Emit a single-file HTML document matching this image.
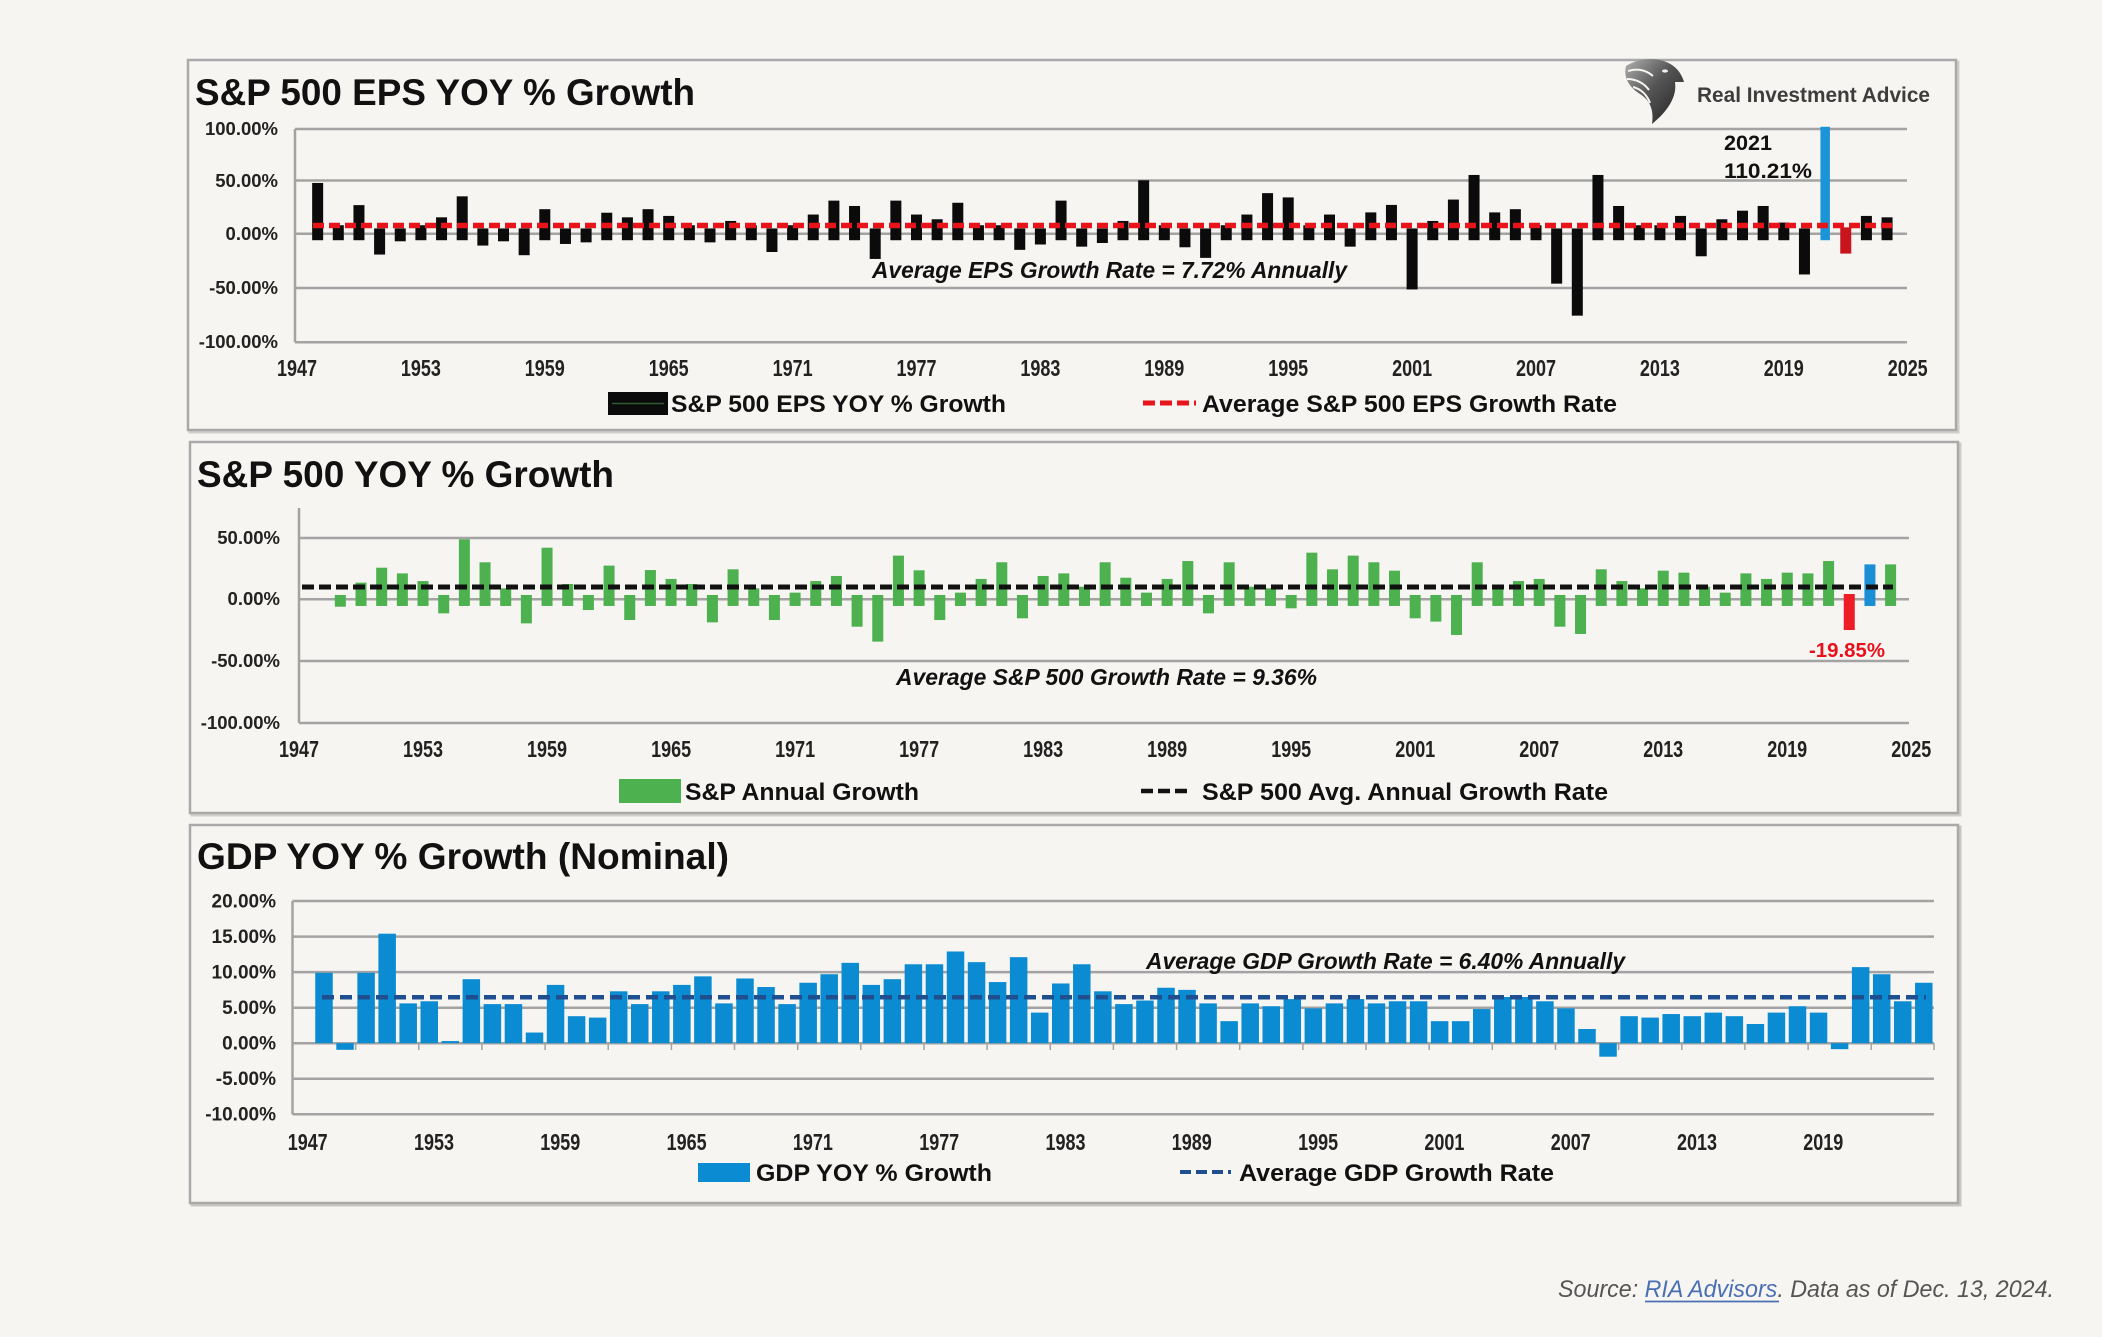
<!DOCTYPE html>
<html><head><meta charset="utf-8"><style>
html,body{margin:0;padding:0;background:#f7f5f2;overflow:hidden;}
svg{display:block;}
</style></head><body>
<svg width="2102" height="1337" viewBox="0 0 2102 1337" xmlns="http://www.w3.org/2000/svg" font-family="'Liberation Sans', Arial, sans-serif">
<defs>
<linearGradient id="eg" x1="0" y1="0" x2="1" y2="1"><stop offset="0" stop-color="#b0b0b0"/><stop offset=".45" stop-color="#555"/><stop offset="1" stop-color="#1e1e1e"/></linearGradient>
</defs>
<rect x="0" y="0" width="2102" height="1337" fill="#f7f5f2"/>

<!-- Panels -->
<rect x="190" y="62" width="1768" height="370" fill="none" stroke="#d0cecb" stroke-width="3"/>
<rect x="188" y="60" width="1768" height="370" fill="#f7f5f2" stroke="#a9a9a9" stroke-width="2.5"/>
<rect x="192" y="444" width="1768" height="371" fill="none" stroke="#d0cecb" stroke-width="3"/>
<rect x="190" y="442" width="1768" height="371" fill="#f7f5f2" stroke="#a9a9a9" stroke-width="2.5"/>
<rect x="192" y="827" width="1768" height="378" fill="none" stroke="#c8c6c3" stroke-width="3"/>
<rect x="190" y="825" width="1768" height="378" fill="#f7f5f2" stroke="#a9a9a9" stroke-width="2.5"/>

<!-- ============ PANEL 1 ============ -->
<text x="195" y="105" font-size="37" font-weight="bold" fill="#111" textLength="500" lengthAdjust="spacingAndGlyphs">S&amp;P 500 EPS YOY % Growth</text>
<g stroke="#a3a3a3" stroke-width="2.5">
<line x1="295" y1="129" x2="1907" y2="129"/>
<line x1="295" y1="180.5" x2="1907" y2="180.5"/>
<line x1="295" y1="233.8" x2="1907" y2="233.8"/>
<line x1="295" y1="288" x2="1907" y2="288"/>
<line x1="295" y1="342.3" x2="1907" y2="342.3"/>
<line x1="295" y1="129" x2="295" y2="342.3"/>
</g>
<g font-size="18.5" font-weight="bold" fill="#222" text-anchor="end">
<text x="278" y="135">100.00%</text>
<text x="278" y="187">50.00%</text>
<text x="278" y="240">0.00%</text>
<text x="278" y="294">-50.00%</text>
<text x="278" y="348">-100.00%</text>
</g>
<g font-size="23" font-weight="bold" fill="#222" text-anchor="middle">
<text x="297" y="376" textLength="40" lengthAdjust="spacingAndGlyphs">1947</text>
<text x="420.9" y="376" textLength="40" lengthAdjust="spacingAndGlyphs">1953</text>
<text x="544.8" y="376" textLength="40" lengthAdjust="spacingAndGlyphs">1959</text>
<text x="668.7" y="376" textLength="40" lengthAdjust="spacingAndGlyphs">1965</text>
<text x="792.6" y="376" textLength="40" lengthAdjust="spacingAndGlyphs">1971</text>
<text x="916.5" y="376" textLength="40" lengthAdjust="spacingAndGlyphs">1977</text>
<text x="1040.4" y="376" textLength="40" lengthAdjust="spacingAndGlyphs">1983</text>
<text x="1164.3" y="376" textLength="40" lengthAdjust="spacingAndGlyphs">1989</text>
<text x="1288.2" y="376" textLength="40" lengthAdjust="spacingAndGlyphs">1995</text>
<text x="1412.1" y="376" textLength="40" lengthAdjust="spacingAndGlyphs">2001</text>
<text x="1536" y="376" textLength="40" lengthAdjust="spacingAndGlyphs">2007</text>
<text x="1659.9" y="376" textLength="40" lengthAdjust="spacingAndGlyphs">2013</text>
<text x="1783.8" y="376" textLength="40" lengthAdjust="spacingAndGlyphs">2019</text>
<text x="1907.7" y="376" textLength="40" lengthAdjust="spacingAndGlyphs">2025</text>
</g>
<g transform="translate(291.5 233.8) scale(20.65 -1.07)" fill="#0b0b0b">
<rect x="1" y="-6" width=".533" height="53.5"/>
<rect x="2" y="-6" width=".533" height="14"/>
<rect x="3" y="-6" width=".533" height="32.8"/>
<rect x="4" y="-19.4" width=".533" height="24.4"/>
<rect x="5" y="-7" width=".533" height="12"/>
<rect x="6" y="-6" width=".533" height="14"/>
<rect x="7" y="-6" width=".533" height="21.4"/>
<rect x="8" y="-6" width=".533" height="41"/>
<rect x="9" y="-11" width=".533" height="16"/>
<rect x="10" y="-7" width=".533" height="12"/>
<rect x="11" y="-20" width=".533" height="25"/>
<rect x="12" y="-6" width=".533" height="29"/>
<rect x="13" y="-9.5" width=".533" height="14.5"/>
<rect x="14" y="-8" width=".533" height="13"/>
<rect x="15" y="-6" width=".533" height="25.7"/>
<rect x="16" y="-6" width=".533" height="21.4"/>
<rect x="17" y="-6" width=".533" height="29"/>
<rect x="18" y="-6" width=".533" height="22.7"/>
<rect x="19" y="-6" width=".533" height="14"/>
<rect x="20" y="-8" width=".533" height="13"/>
<rect x="21" y="-6" width=".533" height="18"/>
<rect x="22" y="-6" width=".533" height="14"/>
<rect x="23" y="-17" width=".533" height="22"/>
<rect x="24" y="-6" width=".533" height="14"/>
<rect x="25" y="-6" width=".533" height="24"/>
<rect x="26" y="-6" width=".533" height="37"/>
<rect x="27" y="-6" width=".533" height="32"/>
<rect x="28" y="-23.5" width=".533" height="28.5"/>
<rect x="29" y="-6" width=".533" height="37"/>
<rect x="30" y="-6" width=".533" height="24"/>
<rect x="31" y="-6" width=".533" height="19.6"/>
<rect x="32" y="-6" width=".533" height="35"/>
<rect x="33" y="-6" width=".533" height="14"/>
<rect x="34" y="-6" width=".533" height="14"/>
<rect x="35" y="-15" width=".533" height="20"/>
<rect x="36" y="-10" width=".533" height="15"/>
<rect x="37" y="-6" width=".533" height="37"/>
<rect x="38" y="-12" width=".533" height="17"/>
<rect x="39" y="-8.6" width=".533" height="13.6"/>
<rect x="40" y="-6" width=".533" height="18"/>
<rect x="41" y="-6" width=".533" height="56"/>
<rect x="42" y="-6" width=".533" height="14"/>
<rect x="43" y="-12.6" width=".533" height="17.6"/>
<rect x="44" y="-22.5" width=".533" height="27.5"/>
<rect x="45" y="-6" width=".533" height="14"/>
<rect x="46" y="-6" width=".533" height="24"/>
<rect x="47" y="-6" width=".533" height="44"/>
<rect x="48" y="-6" width=".533" height="40"/>
<rect x="49" y="-6" width=".533" height="14"/>
<rect x="50" y="-6" width=".533" height="24"/>
<rect x="51" y="-12" width=".533" height="17"/>
<rect x="52" y="-6" width=".533" height="26"/>
<rect x="53" y="-6" width=".533" height="33"/>
<rect x="54" y="-52" width=".533" height="57"/>
<rect x="55" y="-6" width=".533" height="18"/>
<rect x="56" y="-6" width=".533" height="38"/>
<rect x="57" y="-6" width=".533" height="61"/>
<rect x="58" y="-6" width=".533" height="26"/>
<rect x="59" y="-6" width=".533" height="29"/>
<rect x="60" y="-6" width=".533" height="14"/>
<rect x="61" y="-46.6" width=".533" height="51.6"/>
<rect x="62" y="-76.5" width=".533" height="81.5"/>
<rect x="63" y="-6" width=".533" height="61"/>
<rect x="64" y="-6" width=".533" height="32"/>
<rect x="65" y="-6" width=".533" height="14"/>
<rect x="66" y="-6" width=".533" height="14"/>
<rect x="67" y="-6" width=".533" height="22.7"/>
<rect x="68" y="-21" width=".533" height="26"/>
<rect x="69" y="-6" width=".533" height="19.6"/>
<rect x="70" y="-6" width=".533" height="27.6"/>
<rect x="71" y="-6" width=".533" height="32"/>
<rect x="72" y="-6" width=".533" height="16.5"/>
<rect x="73" y="-38" width=".533" height="43"/>
<rect x="74.04" y="-6" width=".46" height="106" fill="#1b95d8"/>
<rect x="75" y="-18.5" width=".533" height="24.5" fill="#c8141c"/>
<rect x="76" y="-6" width=".533" height="22.7"/>
<rect x="77" y="-6" width=".533" height="21.4"/>
</g>
<line x1="313" y1="225.5" x2="1892" y2="225.5" stroke="#e8141b" stroke-width="5.5" stroke-dasharray="11 5"/>
<text x="872" y="278" font-size="23" font-weight="bold" font-style="italic" fill="#111" textLength="475" lengthAdjust="spacingAndGlyphs">Average EPS Growth Rate = 7.72% Annually</text>
<text x="1724" y="150" font-size="21" font-weight="bold" fill="#111" textLength="48" lengthAdjust="spacingAndGlyphs">2021</text>
<text x="1724" y="178" font-size="21" font-weight="bold" fill="#111" textLength="88" lengthAdjust="spacingAndGlyphs">110.21%</text>
<!-- legend 1 -->
<rect x="608" y="392" width="60" height="23" fill="#0b0b0b"/>
<line x1="612" y1="403.5" x2="664" y2="403.5" stroke="#2f5a2f" stroke-width="1.5"/>
<text x="671" y="412" font-size="24" font-weight="bold" fill="#111" textLength="335" lengthAdjust="spacingAndGlyphs">S&amp;P 500 EPS YOY % Growth</text>
<line x1="1143" y1="403" x2="1196" y2="403" stroke="#e8141b" stroke-width="5" stroke-dasharray="12 5"/>
<text x="1202" y="412" font-size="24" font-weight="bold" fill="#111" textLength="415" lengthAdjust="spacingAndGlyphs">Average S&amp;P 500 EPS Growth Rate</text>
<!-- logo -->
<path d="M1626,66 C1640,57 1660,57 1672,65 C1678,69 1682,75 1684,82 L1675,82 C1677,96 1669,110 1652,124 C1654,110 1650,100 1640,94 C1630,88 1623,78 1626,66 Z" fill="url(#eg)"/>
<g stroke="#f7f5f2" stroke-width="2" fill="none">
<path d="M1628,71 C1637,68 1646,70 1653,76"/>
<path d="M1627,79 C1636,79 1644,83 1649,90"/>
<path d="M1633,87 C1641,89 1647,95 1650,103"/>
</g>
<ellipse cx="1665" cy="71" rx="3" ry="1.6" fill="#eee"/>
<text x="1697" y="102" font-size="21" font-weight="bold" fill="#3d3d3d" textLength="233" lengthAdjust="spacingAndGlyphs">Real Investment Advice</text>

<!-- ============ PANEL 2 ============ -->
<text x="197" y="487" font-size="37" font-weight="bold" fill="#111" textLength="417" lengthAdjust="spacingAndGlyphs">S&amp;P 500 YOY % Growth</text>
<g stroke="#a3a3a3" stroke-width="2.5">
<line x1="299" y1="538" x2="1909" y2="538"/>
<line x1="299" y1="599.3" x2="1909" y2="599.3"/>
<line x1="299" y1="661" x2="1909" y2="661"/>
<line x1="299" y1="723" x2="1909" y2="723"/>
<line x1="299" y1="508" x2="299" y2="723"/>
</g>
<g font-size="18.5" font-weight="bold" fill="#222" text-anchor="end">
<text x="280" y="544">50.00%</text>
<text x="280" y="605">0.00%</text>
<text x="280" y="667">-50.00%</text>
<text x="280" y="729">-100.00%</text>
</g>
<g font-size="23" font-weight="bold" fill="#222" text-anchor="middle">
<text x="299" y="757" textLength="40" lengthAdjust="spacingAndGlyphs">1947</text>
<text x="423" y="757" textLength="40" lengthAdjust="spacingAndGlyphs">1953</text>
<text x="547" y="757" textLength="40" lengthAdjust="spacingAndGlyphs">1959</text>
<text x="671.1" y="757" textLength="40" lengthAdjust="spacingAndGlyphs">1965</text>
<text x="795.1" y="757" textLength="40" lengthAdjust="spacingAndGlyphs">1971</text>
<text x="919.1" y="757" textLength="40" lengthAdjust="spacingAndGlyphs">1977</text>
<text x="1043.1" y="757" textLength="40" lengthAdjust="spacingAndGlyphs">1983</text>
<text x="1167.1" y="757" textLength="40" lengthAdjust="spacingAndGlyphs">1989</text>
<text x="1291.2" y="757" textLength="40" lengthAdjust="spacingAndGlyphs">1995</text>
<text x="1415.2" y="757" textLength="40" lengthAdjust="spacingAndGlyphs">2001</text>
<text x="1539.2" y="757" textLength="40" lengthAdjust="spacingAndGlyphs">2007</text>
<text x="1663.2" y="757" textLength="40" lengthAdjust="spacingAndGlyphs">2013</text>
<text x="1787.2" y="757" textLength="40" lengthAdjust="spacingAndGlyphs">2019</text>
<text x="1911.3" y="757" textLength="40" lengthAdjust="spacingAndGlyphs">2025</text>
</g>
<g transform="translate(293.5 599.3) scale(20.67 -1.234)" fill="#4db14f">
<rect x="2" y="-6" width=".533" height="9.5"/>
<rect x="3" y="-5.4" width=".533" height="18.9"/>
<rect x="4" y="-5.4" width=".533" height="31"/>
<rect x="5" y="-5.4" width=".533" height="26.4"/>
<rect x="6" y="-5.4" width=".533" height="20.2"/>
<rect x="7" y="-11.4" width=".533" height="14.9"/>
<rect x="8" y="-5.4" width=".533" height="54"/>
<rect x="9" y="-5.4" width=".533" height="35.4"/>
<rect x="10" y="-5.4" width=".533" height="14.3"/>
<rect x="11" y="-19.5" width=".533" height="23"/>
<rect x="12" y="-5.4" width=".533" height="47.2"/>
<rect x="13" y="-5.4" width=".533" height="17.8"/>
<rect x="14" y="-8.7" width=".533" height="12.2"/>
<rect x="15" y="-5.4" width=".533" height="32.7"/>
<rect x="16" y="-16.8" width=".533" height="20.3"/>
<rect x="17" y="-5.4" width=".533" height="29.1"/>
<rect x="18" y="-5.4" width=".533" height="21.9"/>
<rect x="19" y="-5.4" width=".533" height="17.8"/>
<rect x="20" y="-18.7" width=".533" height="22.2"/>
<rect x="21" y="-5.4" width=".533" height="29.7"/>
<rect x="22" y="-5.4" width=".533" height="14.3"/>
<rect x="23" y="-16.8" width=".533" height="20.3"/>
<rect x="24" y="-5.4" width=".533" height="10.8"/>
<rect x="25" y="-5.4" width=".533" height="20.2"/>
<rect x="26" y="-5.4" width=".533" height="24.3"/>
<rect x="27" y="-22.2" width=".533" height="25.7"/>
<rect x="28" y="-34.3" width=".533" height="37.8"/>
<rect x="29" y="-5.4" width=".533" height="40.8"/>
<rect x="30" y="-5.4" width=".533" height="28.9"/>
<rect x="31" y="-16.8" width=".533" height="20.3"/>
<rect x="32" y="-5.4" width=".533" height="10.8"/>
<rect x="33" y="-5.4" width=".533" height="21.9"/>
<rect x="34" y="-5.4" width=".533" height="35.4"/>
<rect x="35" y="-15.4" width=".533" height="18.9"/>
<rect x="36" y="-5.4" width=".533" height="24.3"/>
<rect x="37" y="-5.4" width=".533" height="26.4"/>
<rect x="38" y="-5.4" width=".533" height="15.6"/>
<rect x="39" y="-5.4" width=".533" height="35.4"/>
<rect x="40" y="-5.4" width=".533" height="22.9"/>
<rect x="41" y="-5.4" width=".533" height="10.8"/>
<rect x="42" y="-5.4" width=".533" height="21.9"/>
<rect x="43" y="-5.4" width=".533" height="36.4"/>
<rect x="44" y="-11.4" width=".533" height="14.9"/>
<rect x="45" y="-5.4" width=".533" height="35.4"/>
<rect x="46" y="-5.4" width=".533" height="15.6"/>
<rect x="47" y="-5.4" width=".533" height="14.3"/>
<rect x="48" y="-7.3" width=".533" height="10.8"/>
<rect x="49" y="-5.4" width=".533" height="43.2"/>
<rect x="50" y="-5.4" width=".533" height="29.7"/>
<rect x="51" y="-5.4" width=".533" height="40.8"/>
<rect x="52" y="-5.4" width=".533" height="35.4"/>
<rect x="53" y="-5.4" width=".533" height="28.6"/>
<rect x="54" y="-15.4" width=".533" height="18.9"/>
<rect x="55" y="-18.1" width=".533" height="21.6"/>
<rect x="56" y="-28.9" width=".533" height="32.4"/>
<rect x="57" y="-5.4" width=".533" height="35.4"/>
<rect x="58" y="-5.4" width=".533" height="14.3"/>
<rect x="59" y="-5.4" width=".533" height="20.2"/>
<rect x="60" y="-5.4" width=".533" height="21.9"/>
<rect x="61" y="-22.2" width=".533" height="25.7"/>
<rect x="62" y="-28.1" width=".533" height="31.6"/>
<rect x="63" y="-5.4" width=".533" height="29.7"/>
<rect x="64" y="-5.4" width=".533" height="20.2"/>
<rect x="65" y="-5.4" width=".533" height="14.3"/>
<rect x="66" y="-5.4" width=".533" height="28.6"/>
<rect x="67" y="-5.4" width=".533" height="27"/>
<rect x="68" y="-5.4" width=".533" height="15.6"/>
<rect x="69" y="-5.4" width=".533" height="10.8"/>
<rect x="70" y="-5.4" width=".533" height="26.4"/>
<rect x="71" y="-5.4" width=".533" height="21.9"/>
<rect x="72" y="-5.4" width=".533" height="27"/>
<rect x="73" y="-5.4" width=".533" height="26.4"/>
<rect x="74" y="-5.4" width=".533" height="36.4"/>
<rect x="75" y="-24.9" width=".533" height="29.2" fill="#ee1c25"/>
<rect x="76" y="-5.4" width=".533" height="33.7" fill="#1b8fd6"/>
<rect x="77" y="-5.4" width=".533" height="33.7"/>
</g>
<line x1="302" y1="587" x2="1893" y2="587" stroke="#111" stroke-width="5" stroke-dasharray="12 5"/>
<text x="896" y="685" font-size="23" font-weight="bold" font-style="italic" fill="#111" textLength="421" lengthAdjust="spacingAndGlyphs">Average S&amp;P 500 Growth Rate = 9.36%</text>
<text x="1847" y="657" font-size="20" font-weight="bold" fill="#e8101a" text-anchor="middle" textLength="76" lengthAdjust="spacingAndGlyphs">-19.85%</text>
<!-- legend 2 -->
<rect x="619" y="779" width="62" height="24" fill="#4db14f"/>
<text x="685" y="800" font-size="24" font-weight="bold" fill="#111" textLength="234" lengthAdjust="spacingAndGlyphs">S&amp;P Annual Growth</text>
<line x1="1141" y1="791" x2="1192" y2="791" stroke="#111" stroke-width="4.5" stroke-dasharray="12 5"/>
<text x="1202" y="800" font-size="24" font-weight="bold" fill="#111" textLength="406" lengthAdjust="spacingAndGlyphs">S&amp;P 500 Avg. Annual Growth Rate</text>

<!-- ============ PANEL 3 ============ -->
<text x="197" y="869" font-size="37" font-weight="bold" fill="#111" textLength="532" lengthAdjust="spacingAndGlyphs">GDP YOY % Growth (Nominal)</text>
<g stroke="#a3a3a3" stroke-width="2.5">
<line x1="292.5" y1="901" x2="1934" y2="901"/>
<line x1="292.5" y1="936.6" x2="1934" y2="936.6"/>
<line x1="292.5" y1="972.1" x2="1934" y2="972.1"/>
<line x1="292.5" y1="1007.7" x2="1934" y2="1007.7"/>
<line x1="292.5" y1="1043.2" x2="1934" y2="1043.2"/>
<line x1="292.5" y1="1078.8" x2="1934" y2="1078.8"/>
<line x1="292.5" y1="1114.3" x2="1934" y2="1114.3"/>
<line x1="292.5" y1="901" x2="292.5" y2="1114.3"/>
</g>
<g font-size="19" font-weight="bold" fill="#222" text-anchor="end">
<text x="276" y="907.5">20.00%</text>
<text x="276" y="943">15.00%</text>
<text x="276" y="978.5">10.00%</text>
<text x="276" y="1014">5.00%</text>
<text x="276" y="1049.5">0.00%</text>
<text x="276" y="1085">-5.00%</text>
<text x="276" y="1120.5">-10.00%</text>
</g>
<g font-size="23" font-weight="bold" fill="#222" text-anchor="middle">
<text x="307.7" y="1150" textLength="40" lengthAdjust="spacingAndGlyphs">1947</text>
<text x="434" y="1150" textLength="40" lengthAdjust="spacingAndGlyphs">1953</text>
<text x="560.3" y="1150" textLength="40" lengthAdjust="spacingAndGlyphs">1959</text>
<text x="686.6" y="1150" textLength="40" lengthAdjust="spacingAndGlyphs">1965</text>
<text x="812.9" y="1150" textLength="40" lengthAdjust="spacingAndGlyphs">1971</text>
<text x="939.2" y="1150" textLength="40" lengthAdjust="spacingAndGlyphs">1977</text>
<text x="1065.5" y="1150" textLength="40" lengthAdjust="spacingAndGlyphs">1983</text>
<text x="1191.8" y="1150" textLength="40" lengthAdjust="spacingAndGlyphs">1989</text>
<text x="1318.1" y="1150" textLength="40" lengthAdjust="spacingAndGlyphs">1995</text>
<text x="1444.4" y="1150" textLength="40" lengthAdjust="spacingAndGlyphs">2001</text>
<text x="1570.7" y="1150" textLength="40" lengthAdjust="spacingAndGlyphs">2007</text>
<text x="1697" y="1150" textLength="40" lengthAdjust="spacingAndGlyphs">2013</text>
<text x="1823.3" y="1150" textLength="40" lengthAdjust="spacingAndGlyphs">2019</text>
</g>
<g stroke="#a3a3a3" stroke-width="1.5">
<line x1="355.6" y1="1043" x2="355.6" y2="1050"/><line x1="418.8" y1="1043" x2="418.8" y2="1050"/>
<line x1="481.9" y1="1043" x2="481.9" y2="1050"/><line x1="545.1" y1="1043" x2="545.1" y2="1050"/>
<line x1="608.2" y1="1043" x2="608.2" y2="1050"/><line x1="671.4" y1="1043" x2="671.4" y2="1050"/>
<line x1="734.5" y1="1043" x2="734.5" y2="1050"/><line x1="797.7" y1="1043" x2="797.7" y2="1050"/>
<line x1="860.8" y1="1043" x2="860.8" y2="1050"/><line x1="924" y1="1043" x2="924" y2="1050"/>
<line x1="987.1" y1="1043" x2="987.1" y2="1050"/><line x1="1050.3" y1="1043" x2="1050.3" y2="1050"/>
<line x1="1113.4" y1="1043" x2="1113.4" y2="1050"/><line x1="1176.6" y1="1043" x2="1176.6" y2="1050"/>
<line x1="1239.7" y1="1043" x2="1239.7" y2="1050"/><line x1="1302.9" y1="1043" x2="1302.9" y2="1050"/>
<line x1="1366" y1="1043" x2="1366" y2="1050"/><line x1="1429.2" y1="1043" x2="1429.2" y2="1050"/>
<line x1="1492.3" y1="1043" x2="1492.3" y2="1050"/><line x1="1555.5" y1="1043" x2="1555.5" y2="1050"/>
<line x1="1618.6" y1="1043" x2="1618.6" y2="1050"/><line x1="1681.8" y1="1043" x2="1681.8" y2="1050"/>
<line x1="1744.9" y1="1043" x2="1744.9" y2="1050"/><line x1="1808.1" y1="1043" x2="1808.1" y2="1050"/>
<line x1="1871.2" y1="1043" x2="1871.2" y2="1050"/><line x1="1934" y1="1043" x2="1934" y2="1050"/>
</g>
<g transform="translate(315.25 1043.2) scale(21.05 -7.11)" fill="#0a8bd2">
<rect x="0" y="0" width=".831" height="9.9"/>
<rect x="1" y="-0.93" width=".831" height="0.93"/>
<rect x="2" y="0" width=".831" height="9.9"/>
<rect x="3" y="0" width=".831" height="15.4"/>
<rect x="4" y="0" width=".831" height="5.6"/>
<rect x="5" y="0" width=".831" height="5.9"/>
<rect x="6" y="0" width=".831" height="0.3"/>
<rect x="7" y="0" width=".831" height="9.0"/>
<rect x="8" y="0" width=".831" height="5.5"/>
<rect x="9" y="0" width=".831" height="5.5"/>
<rect x="10" y="0" width=".831" height="1.5"/>
<rect x="11" y="0" width=".831" height="8.2"/>
<rect x="12" y="0" width=".831" height="3.8"/>
<rect x="13" y="0" width=".831" height="3.6"/>
<rect x="14" y="0" width=".831" height="7.3"/>
<rect x="15" y="0" width=".831" height="5.5"/>
<rect x="16" y="0" width=".831" height="7.3"/>
<rect x="17" y="0" width=".831" height="8.2"/>
<rect x="18" y="0" width=".831" height="9.4"/>
<rect x="19" y="0" width=".831" height="5.6"/>
<rect x="20" y="0" width=".831" height="9.1"/>
<rect x="21" y="0" width=".831" height="7.9"/>
<rect x="22" y="0" width=".831" height="5.5"/>
<rect x="23" y="0" width=".831" height="8.5"/>
<rect x="24" y="0" width=".831" height="9.7"/>
<rect x="25" y="0" width=".831" height="11.3"/>
<rect x="26" y="0" width=".831" height="8.2"/>
<rect x="27" y="0" width=".831" height="9.0"/>
<rect x="28" y="0" width=".831" height="11.1"/>
<rect x="29" y="0" width=".831" height="11.1"/>
<rect x="30" y="0" width=".831" height="12.9"/>
<rect x="31" y="0" width=".831" height="11.4"/>
<rect x="32" y="0" width=".831" height="8.6"/>
<rect x="33" y="0" width=".831" height="12.1"/>
<rect x="34" y="0" width=".831" height="4.3"/>
<rect x="35" y="0" width=".831" height="8.4"/>
<rect x="36" y="0" width=".831" height="11.1"/>
<rect x="37" y="0" width=".831" height="7.3"/>
<rect x="38" y="0" width=".831" height="5.5"/>
<rect x="39" y="0" width=".831" height="6.0"/>
<rect x="40" y="0" width=".831" height="7.8"/>
<rect x="41" y="0" width=".831" height="7.5"/>
<rect x="42" y="0" width=".831" height="5.6"/>
<rect x="43" y="0" width=".831" height="3.1"/>
<rect x="44" y="0" width=".831" height="5.6"/>
<rect x="45" y="0" width=".831" height="5.2"/>
<rect x="46" y="0" width=".831" height="6.2"/>
<rect x="47" y="0" width=".831" height="4.9"/>
<rect x="48" y="0" width=".831" height="5.6"/>
<rect x="49" y="0" width=".831" height="6.2"/>
<rect x="50" y="0" width=".831" height="5.6"/>
<rect x="51" y="0" width=".831" height="5.9"/>
<rect x="52" y="0" width=".831" height="5.9"/>
<rect x="53" y="0" width=".831" height="3.1"/>
<rect x="54" y="0" width=".831" height="3.1"/>
<rect x="55" y="0" width=".831" height="4.8"/>
<rect x="56" y="0" width=".831" height="6.5"/>
<rect x="57" y="0" width=".831" height="6.5"/>
<rect x="58" y="0" width=".831" height="5.9"/>
<rect x="59" y="0" width=".831" height="4.9"/>
<rect x="60" y="0" width=".831" height="2.0"/>
<rect x="61" y="-1.9" width=".831" height="1.9"/>
<rect x="62" y="0" width=".831" height="3.8"/>
<rect x="63" y="0" width=".831" height="3.6"/>
<rect x="64" y="0" width=".831" height="4.1"/>
<rect x="65" y="0" width=".831" height="3.8"/>
<rect x="66" y="0" width=".831" height="4.3"/>
<rect x="67" y="0" width=".831" height="3.8"/>
<rect x="68" y="0" width=".831" height="2.7"/>
<rect x="69" y="0" width=".831" height="4.3"/>
<rect x="70" y="0" width=".831" height="5.2"/>
<rect x="71" y="0" width=".831" height="4.3"/>
<rect x="72" y="-0.84" width=".831" height="0.84"/>
<rect x="73" y="0" width=".831" height="10.7"/>
<rect x="74" y="0" width=".831" height="9.7"/>
<rect x="75" y="0" width=".831" height="5.9"/>
<rect x="76" y="0" width=".831" height="8.5"/>
</g>
<line x1="322" y1="997.3" x2="1926" y2="997.3" stroke="#1f4f8f" stroke-width="4.5" stroke-dasharray="12 6"/>
<text x="1146" y="969" font-size="23" font-weight="bold" font-style="italic" fill="#111" textLength="479" lengthAdjust="spacingAndGlyphs">Average GDP Growth Rate = 6.40% Annually</text>
<!-- legend 3 -->
<rect x="698" y="1163" width="52" height="19" fill="#0a8bd2"/>
<text x="756" y="1181" font-size="24" font-weight="bold" fill="#111" textLength="236" lengthAdjust="spacingAndGlyphs">GDP YOY % Growth</text>
<line x1="1180" y1="1172" x2="1231" y2="1172" stroke="#1f4f8f" stroke-width="4" stroke-dasharray="11 5"/>
<text x="1239" y="1181" font-size="24" font-weight="bold" fill="#111" textLength="315" lengthAdjust="spacingAndGlyphs">Average GDP Growth Rate</text>

<!-- Source -->
<text x="1558" y="1297" font-size="24" font-style="italic" fill="#555" textLength="496" lengthAdjust="spacingAndGlyphs">Source: <tspan fill="#4a6fb3">RIA Advisors</tspan>. Data as of Dec. 13, 2024.</text>
<line x1="1645" y1="1301.5" x2="1779" y2="1301.5" stroke="#4a6fb3" stroke-width="1.8"/>
</svg>
</body></html>
